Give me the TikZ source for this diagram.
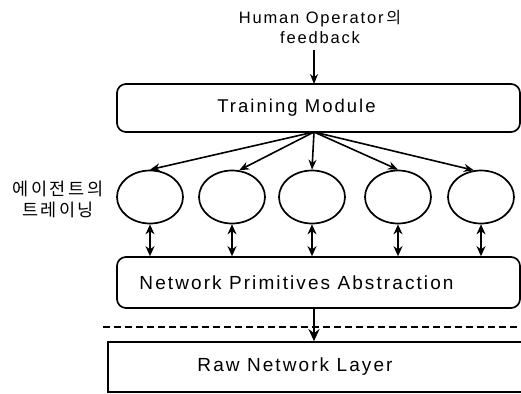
\documentclass[tikz,border=0pt]{standalone}
\usepackage{fontspec}
\setmainfont{Liberation Sans}
\newfontfamily\lsp[LetterSpace=11]{Liberation Sans}
\newfontfamily\krsp[LetterSpace=14]{Noto Sans CJK KR}
\newfontfamily\kr{Noto Sans CJK KR}
\usetikzlibrary{arrows.meta,shapes.geometric}
\tikzset{
  boxr/.style={draw,line width=1.7pt,rounded corners=9pt,inner sep=0pt},
  boxs/.style={draw,line width=1.7pt,inner sep=0pt},
  agent/.style={draw,ellipse,line width=1.7pt,minimum width=66pt,minimum height=53pt,inner sep=0pt},
  arr/.style={line width=1.6pt,-{Stealth[length=10pt,width=8pt]}},
  darr/.style={line width=1.6pt,{Stealth[length=10pt,width=9pt]}-{Stealth[length=10pt,width=9pt]}},
  bigarr/.style={line width=2.4pt,-{Stealth[length=12pt,width=11pt]}},
}
\begin{document}
\begin{tikzpicture}[x=1pt,y=-1pt]
\useasboundingbox (0,0) rectangle (521,393);
% top label
\node[align=center,font=\lsp\fontsize{16.5}{20}\selectfont] (hum) at (320,27) {Human Operator\,{\kr\fontsize{16}{16}\selectfont 의}\\feedback};
% training module
\node[boxr,minimum width=403pt,minimum height=48pt,label={[xshift=-22pt,font=\lsp\fontsize{18.5}{20}\selectfont]center:Training Module}] (tm) at (318.5,108) {};
\coordinate (fan) at (314,132);
\coordinate (topin) at (314,84);
% agents
\node[agent] (e1) at (150,197) {};
\node[agent] (e2) at (232,197) {};
\node[agent] (e3) at (312,197) {};
\node[agent] (e4) at (398,197) {};
\node[agent] (e5) at (481,197) {};
\node[align=center,font=\krsp\fontsize{17.5}{21}\selectfont] (kl) at (58,199) {에이전트의\\트레이닝};
% network primitives
\node[boxr,minimum width=403pt,minimum height=51pt,label={[xshift=-22pt,font=\lsp\fontsize{19}{21}\selectfont]center:Network Primitives Abstraction}] (nw) at (318.5,282.5) {};
% raw layer (right side runs off the picture)
\node[boxs,minimum width=430pt,minimum height=50pt,label={[xshift=-28pt,font=\lsp\fontsize{19}{21}\selectfont]center:Raw Network Layer}] (raw) at (323,367) {};
% dashed line
\coordinate (dl) at (103,327);
\coordinate (dr) at (521,327);
\draw[line width=1.6pt,dash pattern=on 7pt off 4pt] (dl) -- (dr);
% arrows
\draw[arr] (hum.south -| topin) ++(0,3) -- (topin);
\draw[arr] (fan) -- (e1.north);
\draw[arr] (fan) -- (e2.75);
\draw[arr] (fan) -- (e3.north);
\draw[arr] (fan) -- (e4.north);
\draw[arr] (fan) -- (e5.105);
\foreach \e in {e1,e2,e3,e4,e5}{
  \draw[darr] (\e.south) -- (\e.south |- nw.north);
}
\draw[bigarr] (nw.south -| fan) -- (raw.north -| fan);
\end{tikzpicture}
\end{document}
